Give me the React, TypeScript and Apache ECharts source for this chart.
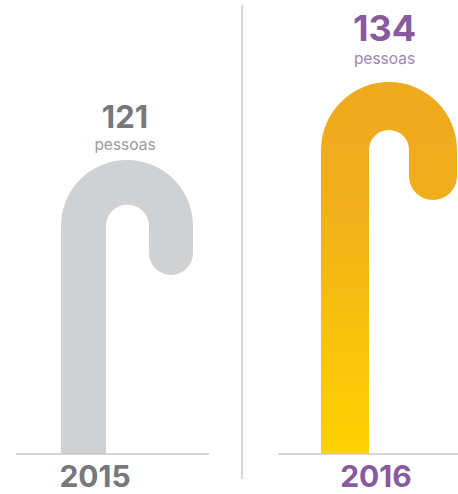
import React, { useEffect, useRef } from "react";
import * as echarts from "echarts";

const years = ["2015", "2016"];
const people = [121, 134];
const unitLabel = "pessoas";

// Drawing geometry of each cane, in pixels relative to the cane's centre on the axis.
const caneShapes = [
  { outerR: 66, shaft: 45, tipW: 44, drop: 115, yearDx: -32, labelDx: -2, baseL: 16, baseR: 209, numSize: 31, subSize: 15.5, numDy: -43.5, subDy: -16 },
  { outerR: 68, shaft: 48, tipW: 48, drop: 118, yearDx: -13, labelDx: -4.5, baseL: 278, baseR: 458, numSize: 36, subSize: 15.5, numDy: -54.5, subDy: -23.5 },
];
const textColors = [
  { num: "#77787b", sub: "#9b9c9e", year: "#77787b" },
  { num: "#8a5a9e", sub: "#a184b2", year: "#8a5a9e" },
];
const FONT = "Inter, 'Noto Sans', sans-serif";

const fills: any[] = [
  "#cfd1d3",
  new echarts.graphic.LinearGradient(0, 0, 0, 1, [
    { offset: 0, color: "#eea91f" },
    { offset: 0.3, color: "#f0ae1c" },
    { offset: 1, color: "#ffd200" },
  ]),
];

function canePath(cx: number, top: number, bottom: number, s: (typeof caneShapes)[number]) {
  const left = cx - s.outerR;
  const right = cx + s.outerR;
  const spring = top + s.outerR;
  const inL = left + s.shaft;
  const inR = right - s.tipW;
  const inner = (inR - inL) / 2;
  const tipR = s.tipW / 2;
  const tipEnd = top + s.drop - tipR;
  return [
    `M${left} ${bottom}`,
    `L${left} ${spring}`,
    `A${s.outerR} ${s.outerR} 0 0 1 ${right} ${spring}`,
    `L${right} ${tipEnd}`,
    `A${tipR} ${tipR} 0 0 1 ${inR} ${tipEnd}`,
    `L${inR} ${spring}`,
    `A${inner} ${inner} 0 0 0 ${inL} ${spring}`,
    `L${inL} ${bottom}`,
    "Z",
  ].join(" ");
}

function renderCane(params: any, api: any) {
  const i = params.dataIndex;
  const s = caneShapes[i];
  const c = textColors[i];
  const [cx, top] = api.coord([i, api.value(1)]);
  const [, bottom] = api.coord([i, 72]);
  const txt = (text: string, x: number, y: number, size: number, fill: string, weight: any) => ({
    type: "text",
    style: { text, x, y, fontSize: size, fontWeight: weight, fontFamily: FONT, fill, align: "center", verticalAlign: "middle" },
  });
  return {
    type: "group",
    children: [
      {
        type: "path",
        shape: { pathData: canePath(cx, top, bottom, s) },
        style: { fill: fills[i] },
      },
      {
        type: "line",
        shape: { x1: s.baseL, y1: bottom, x2: s.baseR, y2: bottom },
        style: { stroke: "#c9cacc", lineWidth: 1.5 },
      },
      txt(String(api.value(1)), cx + s.labelDx, top + s.numDy, s.numSize, c.num, 700),
      txt(unitLabel, cx + s.labelDx, top + s.subDy, s.subSize, c.sub, 400),
      txt(years[i], cx + s.yearDx, bottom + 22, 30, c.year, 700),
    ],
  };
}

export default function App() {
  const ref = useRef<HTMLDivElement>(null);
  useEffect(() => {
    document.body.style.margin = "0";
    const chart = echarts.init(ref.current!, undefined, { renderer: "svg" });
    chart.setOption({
      animation: false,
      backgroundColor: "#ffffff",
      grid: { left: 127, right: 69, top: 22, bottom: 40 },
      xAxis: { type: "category", data: years, boundaryGap: false, show: false },
      yAxis: { type: "value", min: 72, max: 144, show: false },
      graphic: [
        {
          type: "line",
          shape: { x1: 242, y1: 5, x2: 242, y2: 479 },
          style: { stroke: "#c9cacc", lineWidth: 1.5 },
        },
      ],
      series: [
        {
          type: "custom",
          clip: false,
          renderItem: renderCane,
          encode: { x: 0, y: 1 },
          data: people.map((v, i) => [i, v]),
        },
      ],
    });
    return () => chart.dispose();
  }, []);
  return <div ref={ref} style={{ width: 458, height: 494 }} />;
}
